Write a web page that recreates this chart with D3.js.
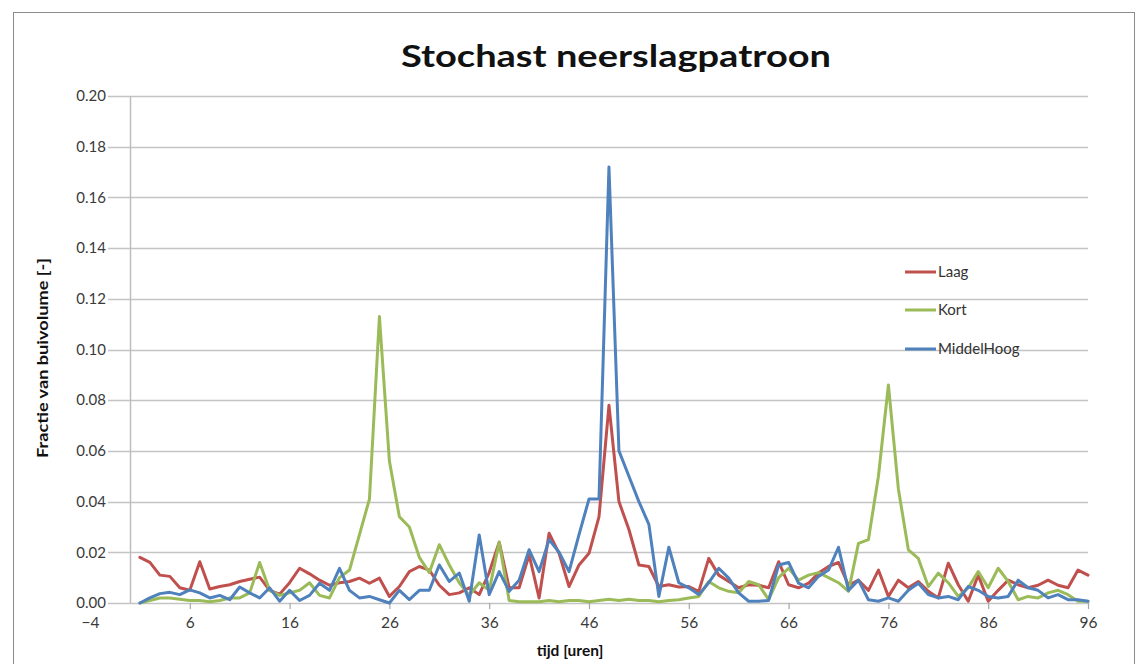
<!DOCTYPE html>
<html>
<head>
<meta charset="utf-8">
<script src="https://cdn.jsdelivr.net/npm/d3@7"></script>
<style>
  html, body { margin: 0; padding: 0; background: #fff; }
  svg { display: block; }
  text { font-family: "Lato", "Open Sans", sans-serif; }
</style>
</head>
<body>
<svg id="chart" width="1141" height="664"></svg>
<script>
const hours = [1,2,3,4,5,6,7,8,9,10,11,12,13,14,15,16,17,18,19,20,21,22,23,24,25,26,27,28,29,30,31,32,33,34,35,36,37,38,39,40,41,42,43,44,45,46,47,48,49,50,51,52,53,54,55,56,57,58,59,60,61,62,63,64,65,66,67,68,69,70,71,72,73,74,75,76,77,78,79,80,81,82,83,84,85,86,87,88,89,90,91,92,93,94,95,96];

const laag = [0.018,0.016,0.011,0.0105,0.006,0.005,0.0163,0.0055,0.0065,0.0072,0.0085,0.0094,0.0102,0.005,0.0035,0.008,0.0137,0.0115,0.009,0.007,0.008,0.0085,0.0098,0.0078,0.0098,0.0026,0.0065,0.0124,0.0144,0.013,0.007,0.0033,0.004,0.006,0.0033,0.012,0.024,0.006,0.006,0.019,0.002,0.0275,0.0196,0.0065,0.015,0.0196,0.034,0.078,0.040,0.029,0.015,0.0144,0.0065,0.0072,0.0063,0.0065,0.0046,0.0176,0.011,0.0085,0.006,0.0072,0.007,0.006,0.0163,0.0072,0.006,0.0078,0.0118,0.0144,0.016,0.007,0.009,0.005,0.013,0.0026,0.009,0.006,0.0085,0.0046,0.002,0.0157,0.0072,0.0007,0.011,0.0007,0.005,0.009,0.0072,0.006,0.007,0.009,0.007,0.006,0.013,0.011];

const kort = [0,0.001,0.002,0.002,0.0015,0.001,0.001,0.0005,0.001,0.002,0.002,0.004,0.016,0.005,0.003,0.004,0.005,0.008,0.003,0.002,0.010,0.013,0.027,0.041,0.113,0.056,0.034,0.030,0.018,0.012,0.023,0.015,0.008,0.003,0.008,0.005,0.024,0.001,0.0005,0.0005,0.0005,0.001,0.0005,0.001,0.001,0.0005,0.001,0.0015,0.001,0.0015,0.001,0.001,0.0005,0.001,0.0013,0.002,0.0026,0.0085,0.006,0.0046,0.004,0.0085,0.0072,0.0013,0.010,0.0137,0.009,0.011,0.012,0.010,0.008,0.0046,0.0235,0.025,0.050,0.086,0.045,0.021,0.0176,0.0065,0.0118,0.008,0.0026,0.006,0.0124,0.006,0.0137,0.0085,0.0013,0.0026,0.002,0.004,0.005,0.0033,0.0007,0.0007];

const middelHoog = [0,0.002,0.0037,0.0042,0.0033,0.0052,0.004,0.002,0.003,0.0013,0.0063,0.004,0.002,0.006,0.0007,0.005,0.001,0.003,0.0078,0.005,0.0137,0.005,0.002,0.0026,0.0013,0,0.005,0.0013,0.005,0.005,0.015,0.0085,0.0118,0.0007,0.0268,0.0033,0.0124,0.0046,0.009,0.021,0.0124,0.025,0.020,0.0124,0.027,0.041,0.041,0.172,0.060,0.050,0.040,0.031,0.0026,0.022,0.008,0.006,0.0033,0.008,0.0137,0.0098,0.004,0.0007,0.0007,0.001,0.015,0.016,0.0078,0.006,0.0105,0.013,0.022,0.005,0.009,0.0013,0.0007,0.002,0.0007,0.005,0.0078,0.0033,0.002,0.0026,0.0013,0.0065,0.005,0.0026,0.002,0.0026,0.009,0.006,0.005,0.002,0.0033,0.0013,0.0013,0.0007];

const seriesNames = ["Laag", "Kort", "MiddelHoog"];
const seriesColors = ["#c0504d", "#9bbb59", "#4f81bd"];
const xTicks = [-4, 6, 16, 26, 36, 46, 56, 66, 76, 86, 96];
const yTicks = [0, 0.02, 0.04, 0.06, 0.08, 0.10, 0.12, 0.14, 0.16, 0.18, 0.20];
const title = "Stochast neerslagpatroon";
const xTitle = "tijd [uren]";
const yTitle = "Fractie van buivolume [-]";

const svg = d3.select("#chart");

// outer chart border
svg.append("rect")
  .attr("x", 13.5).attr("y", 12.5)
  .attr("width", 1121).attr("height", 670)
  .attr("fill", "#fff").attr("stroke", "#8c8c8c").attr("stroke-width", 1);

const x = d3.scaleLinear().domain([-4, 96]).range([90, 1088]);
const y = d3.scaleLinear().domain([0, 0.2]).range([603, 96]);
const gridLeft = 108;

// horizontal gridlines
svg.append("g").selectAll("line").data(yTicks).join("line")
  .attr("x1", gridLeft).attr("x2", x(96))
  .attr("y1", d => Math.round(y(d)) + 0.5).attr("y2", d => Math.round(y(d)) + 0.5)
  .attr("stroke", "#c4c4c4").attr("stroke-width", 1.3);

// y tick labels
svg.append("g").selectAll("text").data(yTicks).join("text")
  .attr("x", 106).attr("y", d => y(d))
  .attr("dy", "0.35em")
  .attr("text-anchor", "end")
  .attr("font-size", 15)
  .attr("fill", "#3a3a3a")
  .text(d => d3.format(".2f")(d));

// vertical axis line at x = 0
svg.append("line")
  .attr("x1", Math.round(x(0)) + 0.5).attr("x2", Math.round(x(0)) + 0.5)
  .attr("y1", y(0.2)).attr("y2", y(0))
  .attr("stroke", "#bdbdbd").attr("stroke-width", 1.5);

// x axis via d3 axis
const xAxis = d3.axisBottom(x).tickValues(xTicks).tickSize(6).tickPadding(8).tickFormat(d3.format("d"));
const gx = svg.append("g").attr("transform", `translate(0,${y(0)})`).call(xAxis);
gx.select(".domain").remove();
gx.selectAll(".tick line").attr("stroke", "#a6a6a6").attr("stroke-width", 1.2)
  .attr("opacity", d => d === -4 ? 0 : 1);
gx.selectAll(".tick text")
  .attr("font-size", 15.5)
  .attr("fill", "#3a3a3a")
  .attr("font-family", "Lato, 'Open Sans', sans-serif");

// series lines
const allSeries = [laag, kort, middelHoog];
const line = d3.line()
  .x((d, i) => x(hours[i]))
  .y(d => y(d));

svg.append("g").selectAll("path").data(allSeries).join("path")
  .attr("d", d => line(d))
  .attr("fill", "none")
  .attr("stroke", (d, i) => seriesColors[i])
  .attr("stroke-width", 3)
  .attr("stroke-linejoin", "round")
  .attr("stroke-linecap", "round");

// legend
const legend = svg.append("g");
const legendY = [272, 310, 349];
seriesNames.forEach((name, i) => {
  legend.append("line")
    .attr("x1", 905).attr("x2", 936)
    .attr("y1", legendY[i]).attr("y2", legendY[i])
    .attr("stroke", seriesColors[i]).attr("stroke-width", 3);
  legend.append("text")
    .attr("x", 938).attr("y", legendY[i]).attr("dy", "0.35em")
    .attr("font-size", 15).attr("fill", "#333")
    .text(name);
});

// title
svg.append("text")
  .attr("x", 616).attr("y", 67)
  .attr("text-anchor", "middle")
  .attr("font-size", 31).attr("font-weight", "bold")
  .attr("fill", "#111")
  .attr("textLength", 430).attr("lengthAdjust", "spacingAndGlyphs")
  .text(title);

// axis titles
svg.append("text")
  .attr("x", 570).attr("y", 656)
  .attr("text-anchor", "middle")
  .attr("font-size", 15.5).attr("font-weight", "bold")
  .attr("fill", "#111")
  .text(xTitle);

svg.append("text")
  .attr("transform", "translate(48,358) rotate(-90)")
  .attr("text-anchor", "middle")
  .attr("font-size", 15).attr("font-weight", "bold")
  .attr("fill", "#111")
  .attr("textLength", 200).attr("lengthAdjust", "spacingAndGlyphs")
  .text(yTitle);
</script>
</body>
</html>
